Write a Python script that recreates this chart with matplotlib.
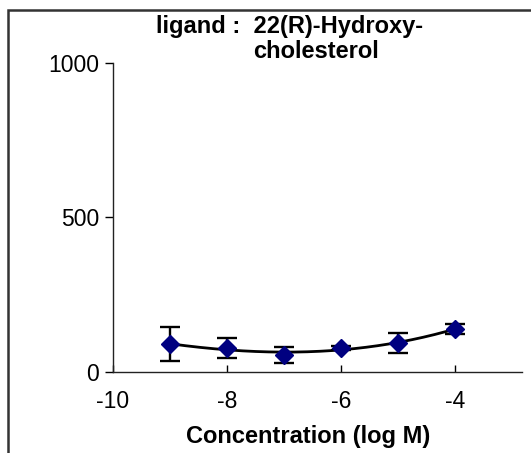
import numpy as np
import matplotlib
matplotlib.use("Agg")
import matplotlib.pyplot as plt
from matplotlib.patches import Rectangle

# data
log_conc = [-9, -8, -7, -6, -5, -4]
response = [90, 78, 55, 78, 94, 139]
err = [55, 33, 27, 6, 32, 15]

x_ticks = [-10, -8, -6, -4]
y_ticks = [0, 500, 1000]

plt.rcParams['font.family'] = ['Liberation Sans', 'DejaVu Sans']

fig = plt.figure(figsize=(5.31, 4.53), dpi=100)
W, H = 531, 453

# outer frame (cropped on the right and bottom in the original)
fig.patches.append(Rectangle((8 / W, -0.1), 1.2, 1 - 10 / H + 0.1,
                             transform=fig.transFigure, fill=False,
                             edgecolor='#333333', linewidth=1.8))

ax = fig.add_axes([113 / W, 1 - 372 / H, (522 - 113) / W, (372 - 63) / H])

# smoothed trend line (polynomial fit of the points)
coef = np.polyfit(log_conc, response, 3)
xs = np.linspace(log_conc[0], log_conc[-1], 200)
ax.plot(xs, np.polyval(coef, xs), color='black', linewidth=2.0, zorder=2)

ax.errorbar(log_conc, response, yerr=err, fmt='none', ecolor='black',
            elinewidth=1.7, capsize=7, capthick=1.7, zorder=3)
ax.plot(log_conc, response, linestyle='none', marker='D', markersize=9,
        color='#000080', zorder=4)

ax.set_xlim(-10, -2.82)
ax.set_ylim(0, 1000)
ax.set_xticks(x_ticks)
ax.set_yticks(y_ticks)
ax.set_xticklabels([str(v) for v in x_ticks])
ax.tick_params(axis='x', direction='in', length=5, width=1, labelsize=16.5, pad=13)
ax.tick_params(axis='y', direction='out', length=6, width=1, labelsize=16.5, pad=4)

for s in ['top', 'right']:
    ax.spines[s].set_visible(False)
for s in ['left', 'bottom']:
    ax.spines[s].set_linewidth(1.0)
    ax.spines[s].set_color('#222222')

ax.set_xlabel('Concentration (log M)', fontsize=17, fontweight='bold')
ax.xaxis.set_label_coords((308 - 113) / (522 - 113), -0.172)

fig.text(156 / W, 1 - 33 / H, 'ligand :  22(R)-Hydroxy-', fontsize=17,
         fontweight='bold', ha='left', va='baseline')
fig.text(253 / W, 1 - 58 / H, 'cholesterol', fontsize=17,
         fontweight='bold', ha='left', va='baseline')

fig.savefig('out.png', dpi=100)
